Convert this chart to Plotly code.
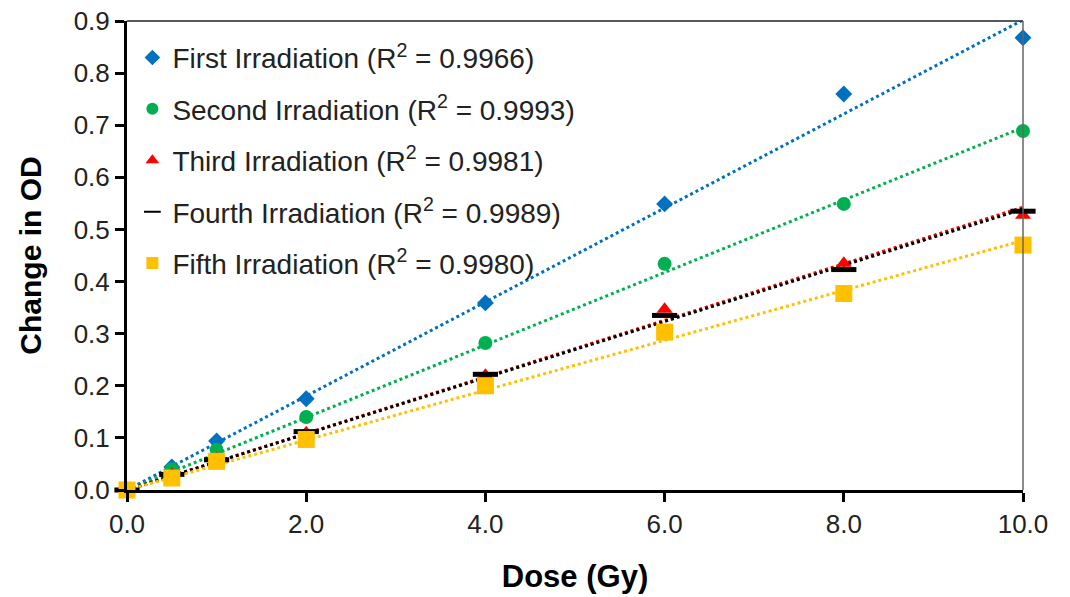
import numpy as np
import plotly.graph_objects as go

dose = [0, 0.5, 1, 2, 4, 6, 8, 10]
first = [0, 0.044, 0.094, 0.175, 0.359, 0.549, 0.760, 0.868]
second = [0, 0.040, 0.077, 0.140, 0.282, 0.434, 0.549, 0.689]
third = [0, 0.030, 0.060, 0.110, 0.220, 0.347, 0.435, 0.527]
fourth = [0, 0.030, 0.058, 0.112, 0.222, 0.335, 0.423, 0.535]
fifth = [0, 0.023, 0.055, 0.097, 0.200, 0.303, 0.377, 0.470]

names = ["First Irradiation", "Second Irradiation", "Third Irradiation",
         "Fourth Irradiation", "Fifth Irradiation"]
r2 = ["0.9966", "0.9993", "0.9981", "0.9989", "0.9980"]
series = [first, second, third, fourth, fifth]
colors = ["#0070C0", "#00B050", "#FF0000", "#000000", "#FFC000"]
line_colors = ["#0070C0", "#00B050", "#FF0000", "#000000", "#FFC000"]
symbols = ["diamond", "circle", "triangle-up", "line-ew", "square"]
sizes = [13, 14, 14, 18, 17]

fig = go.Figure()
x = np.array(dose)
xfit = np.array([0, 10])
# trendlines (linear, through origin)
for ys, lc in zip(series, line_colors):
    y = np.array(ys)
    slope = (x * y).sum() / (x * x).sum()
    fig.add_trace(go.Scatter(x=xfit, y=slope * xfit, mode="lines",
                             line=dict(color=lc, width=3, dash="dot"),
                             showlegend=False, hoverinfo="skip", cliponaxis=False))

for i, (ys, nm, r, c, s, sz) in enumerate(zip(series, names, r2, colors, symbols, sizes)):
    marker = dict(color=c, symbol=s, size=sz)
    if s == "line-ew":
        marker["line"] = dict(color=c, width=5)
    else:
        marker["line"] = dict(width=0)
    fig.add_trace(go.Scatter(x=dose, y=ys, mode="markers", marker=marker,
                             name=f"{nm} (R<sup>2</sup> = {r})",
                             legendgroup=f"g{i}", cliponaxis=False))

tickfont = dict(family="Liberation Sans, Arial, sans-serif", size=26, color="#222")
fig.update_layout(
    width=1070, height=597,
    paper_bgcolor="white", plot_bgcolor="white",
    margin=dict(l=127, r=47, t=21, b=107),
    font=dict(family="Liberation Sans, Arial, sans-serif", color="#222"),
    legend=dict(x=0.006, y=0.975, xanchor="left", yanchor="top",
                font=dict(size=28, color="#222"), tracegroupgap=12,
                itemwidth=30,
                bgcolor="rgba(0,0,0,0)", itemsizing="constant"),
    xaxis=dict(range=[0, 10], tickvals=[0, 2, 4, 6, 8, 10], tickformat=".1f",
               showgrid=False, zeroline=False, showline=True, linecolor="black",
               linewidth=3, ticks="outside", ticklen=9, tickwidth=3, tickcolor="black",
               automargin=False, tickfont=tickfont, ticklabeloverflow="allow",
               title=dict(text="<b>Dose (Gy)</b>", font=dict(size=31, color="black"), standoff=28)),
    yaxis=dict(range=[0, 0.9], dtick=0.1, tickformat=".1f",
               showgrid=False, zeroline=False, showline=True, linecolor="black",
               linewidth=3, ticks="outside", ticklen=9, tickwidth=3, tickcolor="black",
               automargin=False, tickfont=tickfont, ticklabeloverflow="allow",
               title=dict(text="<b>Change in OD</b>", font=dict(size=30, color="black"), standoff=24)),
    shapes=[
        dict(type="line", xref="x domain", yref="y domain", x0=0, x1=1, y0=1, y1=1,
             line=dict(color="#222", width=1.5)),
        dict(type="line", xref="x domain", yref="y domain", x0=1, x1=1, y0=0, y1=1,
             line=dict(color="#666", width=1.5)),
    ],
)

fig.write_html("out.html", config={"displayModeBar": False},
               post_script="document.body.style.margin='0';document.body.style.overflow='hidden';")
